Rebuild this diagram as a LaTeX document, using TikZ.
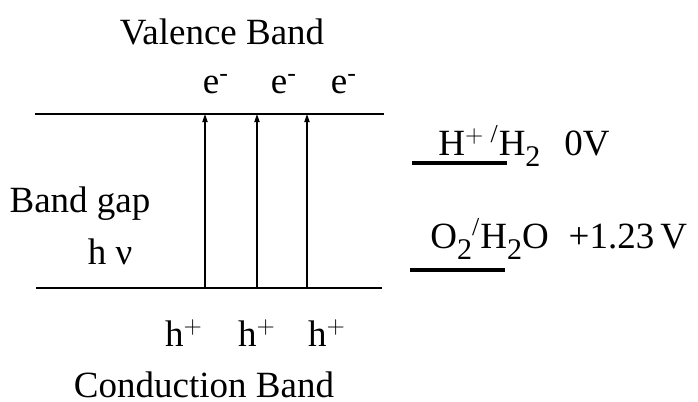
\documentclass[tikz,border=0pt]{standalone}
\usepackage{fontspec}
\setmainfont{Liberation Serif}
\usepackage{tikz}
\usetikzlibrary{positioning,arrows.meta}
\newcommand{\lowtwo}{\raisebox{-0.32em}{\fontsize{15}{15}\selectfont 2}}
\tikzset{
  band/.style  = {draw=black, line width=0.6pt},
  level/.style = {draw=black, line width=2pt},
  pump/.style  = {-{Triangle[length=4pt, width=2.6pt]}, draw=black, line width=0.6pt},
  lbl/.style   = {font=\fontsize{18.5}{21}\selectfont, inner sep=0pt},
}

\begin{document}
\begin{tikzpicture}[x=0.5pt, y=-0.5pt]
  \useasboundingbox (0,0) rectangle (698,402);

  % the two band edges
  \coordinate (vbL) at (35,114);
  \coordinate (vbR) at (384,114);
  \coordinate (cbL) at (36,288);
  \coordinate (cbR) at (382,288);
  \draw[band] (vbL) -- (vbR);
  \draw[band] (cbL) -- (cbR);

  % excitation arrows
  \coordinate (lo1) at (205,288);  \coordinate (up1) at (205,114);
  \coordinate (lo2) at (257,288);  \coordinate (up2) at (257,114);
  \coordinate (lo3) at (307,288);  \coordinate (up3) at (307,114);
  \draw[pump] (lo1) -- (up1);
  \draw[pump] (lo2) -- (up2);
  \draw[pump] (lo3) -- (up3);

  \node[lbl] (valence)    at (222,32)  {Valence Band};
  \node[lbl, anchor=base] (conduction) at (204,397) {Conduction Band};
  \node[lbl] (bandgap)    at (80,204)  {Band gap};
  \node[lbl] (hnu)        at (110,252) {h ν};

  \node[lbl] (e1) at (216,84) {e\textsuperscript{-}};
  \node[lbl] (e2) at (284,84) {e\textsuperscript{-}};
  \node[lbl] (e3) at (344,84) {e\textsuperscript{-}};

  \node[lbl] (h1) at (184,333) {h$^{+}$};
  \node[lbl] (h2) at (257,333) {h$^{+}$};
  \node[lbl] (h3) at (327,333) {h$^{+}$};

  % redox levels
  \coordinate (hl1) at (412,163);  \coordinate (hl2) at (507,163);
  \coordinate (ol1) at (410,270);  \coordinate (ol2) at (505,270);
  \draw[level] (hl1) -- (hl2);
  \draw[level] (ol1) -- (ol2);
  \node[lbl, anchor=base west] (hpair) at (438,155)
    {H$^{+}$\,\textsuperscript{/}H\lowtwo\hspace{12pt}0V};
  \node[lbl, anchor=base west] (opair) at (430,248)
    {O\lowtwo\textsuperscript{/}H\lowtwo O\hspace{10pt}+1.23\hspace{3pt}V};
\end{tikzpicture}
\end{document}
